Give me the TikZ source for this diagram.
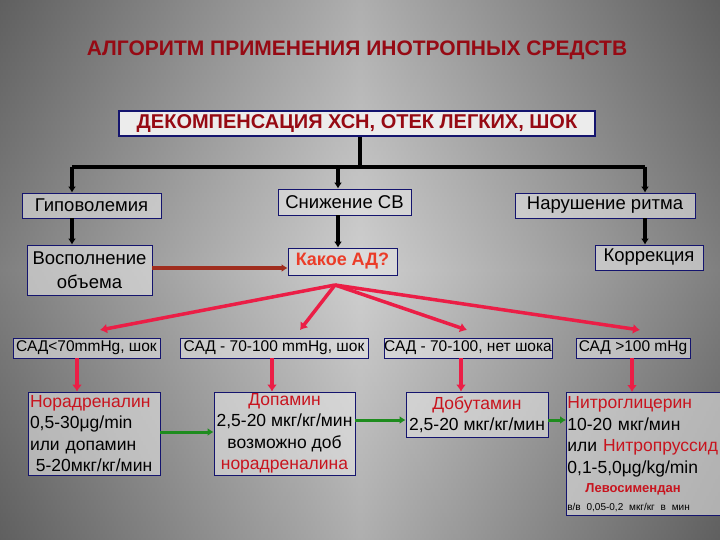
\documentclass[tikz,border=0pt]{standalone}
\usepackage{fontspec}
\setmainfont{Liberation Sans}
\definecolor{dred}{RGB}{150,10,20}
\definecolor{bred}{RGB}{200,20,30}
\definecolor{ored}{RGB}{235,60,40}
\definecolor{navy}{RGB}{20,20,110}
\definecolor{pinkr}{RGB}{235,30,70}
\definecolor{gr}{RGB}{30,140,30}
\definecolor{brn}{RGB}{160,45,30}
\usetikzlibrary{arrows.meta}
\tikzset{
 bx/.style={draw=navy, line width=0.8pt, fill=white!80!gray, fill opacity=0.6, text opacity=1, inner sep=0pt, font=\fontsize{18.5}{20}\selectfont, align=center},
 blk/.style={line width=3.5pt, -{Latex[length=6pt,width=8pt]}},
 rd/.style={pinkr, line width=3.5pt, -{Latex[length=7pt,width=10pt]}},
 gn/.style={gr, line width=3pt, -{Latex[length=6pt,width=8pt]}},
}
\begin{document}
\begin{tikzpicture}[x=1pt,y=-1pt]
\useasboundingbox (0,0) rectangle (720,540);
\shade[left color=black!85, right color=black!85, middle color=gray!45] (0,0) rectangle (720,540);
\shade[top color=black!40, bottom color=black!40, middle color=gray!30, opacity=0.5] (0,0) rectangle (720,540);
\node (title) at (357,50) {\fontsize{21}{23}\selectfont\color{dred}\textbf{АЛГОРИТМ ПРИМЕНЕНИЯ ИНОТРОПНЫХ СРЕДСТВ}};
\node[draw=navy, line width=2pt, fill=gray!15, minimum width=476, minimum height=25, inner sep=0pt] (top) at (357,123.5) {\fontsize{20}{20}\selectfont\bfseries\color{dred}ДЕКОМПЕНСАЦИЯ ХСН, ОТЕК ЛЕГКИХ, ШОК};
\node[bx, minimum width=139, minimum height=25] (hypo) at (91.5,205.5) {Гиповолемия};
\node[bx, minimum width=133, minimum height=26] (cv) at (344.5,202) {Снижение СВ};
\node[bx, minimum width=180, minimum height=25] (rit) at (605,205.5) {Нарушение ритма};
\node[bx, minimum width=125, minimum height=50, font=\fontsize{18.5}{24}\selectfont] (vos) at (89.5,270) {Восполнение\\объема};
\node[bx, minimum width=109, minimum height=27, font=\fontsize{18}{20}\selectfont\bfseries, text=ored] (ad) at (342.5,261.5) {Какое АД?};
\node[bx, minimum width=108, minimum height=25] (kor) at (649,257.5) {Коррекция};
\coordinate (j) at (360,167);
\draw[line width=3.5pt] (top.south -| j) -- (j);
\draw[line width=3.5pt] (72,167) -- (645,167);
\draw[blk] (72,167) -- (hypo.north -| 72,0);
\draw[blk] (338,167) -- (cv.north -| 338,0);
\draw[blk] (645,167) -- (rit.north -| 645,0);
\draw[blk] (hypo.south -| 72,0) -- (vos.north -| 72,0);
\draw[blk] (cv.south -| 338,0) -- (ad.north -| 338,0);
\draw[blk] (rit.south -| 645,0) -- (kor.north -| 645,0);
\draw[brn, line width=3.5pt, -{Latex[length=6pt,width=8pt]}] (vos.east |- 0,268) -- (ad.west |- 0,268);
\tikzset{sad/.style={bx, minimum height=20, font=\fontsize{15.5}{17}\selectfont}}
\node[sad, minimum width=147] (s1) at (86.5,348) {САД<70mmHg, шок};
\node[sad, minimum width=188] (s2) at (274,348) {САД - 70-100 mmHg, шок};
\node[sad, minimum width=168] (s3) at (468,348) {САД - 70-100, нет шока};
\node[sad, minimum width=114] (s4) at (633,348) {САД >100 mHg};
\coordinate (src) at (335,285);
\draw[rd] (src) -- (100,330);
\draw[rd] (src) -- (300,330);
\draw[rd] (src) -- (467,330);
\draw[rd] (src) -- (640,330);
\tikzset{drug/.style={bx, font=\fontsize{17.5}{21.5}\selectfont}}
\node[drug, minimum height=83, text width=128, align=left, inner xsep=2pt] (d1) at (94,433.5) {\textcolor{bred}{Норадреналин}\\0,5-30μg/min\\или допамин\\\ 5-20мкг/кг/мин};
\node[drug, minimum width=141, minimum height=83] (d2) at (284.5,433.5) {\textcolor{bred}{Допамин}\\2,5-20 мкг/кг/мин\\возможно доб\\\textcolor{bred}{норадреналина}};
\node[drug, minimum width=142, minimum height=45] (d3) at (477,414.5) {\textcolor{bred}{Добутамин}\\2,5-20 мкг/кг/мин};
\node[drug, text width=158, minimum height=123, align=left, anchor=north west, inner xsep=1pt, inner ysep=3pt] (d4) at (566,392) {\textcolor{bred}{Нитроглицерин}\\10-20 мкг/мин\\или \textcolor{bred}{Нитропруссид}\\0,1-5,0μg/kg/min\\[-2pt]\hspace*{18pt}{\fontsize{13}{18}\selectfont\bfseries\textcolor{bred}{Левосимендан}}\\[-4pt]{\fontsize{10}{14}\selectfont в/в 0,05-0,2 мкг/кг в мин}};
\draw[rd] (s1.south -| 77,0) -- (d1.north -| 77,0);
\draw[rd] (s2.south -| 272,0) -- (d2.north -| 272,0);
\draw[rd] (s3.south -| 461,0) -- (d3.north -| 461,0);
\draw[rd] (s4.south -| 632,0) -- (d4.north -| 632,0);
\draw[gn] (d1.east |- 0,432) -- (d2.west |- 0,432);
\draw[gn] (d2.east |- 0,420) -- (d3.west |- 0,420);
\draw[gn] (d3.east |- 0,420) -- (d4.west |- 0,420);
\end{tikzpicture}
\end{document}
